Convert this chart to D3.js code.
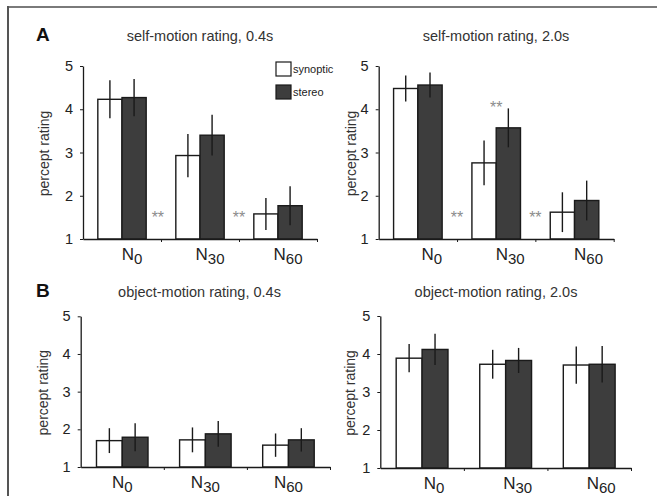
<!DOCTYPE html>
<html lang="en">
<head>
<meta charset="UTF-8">
<title>percept rating</title>
<script src="https://d3js.org/d3.v7.min.js"></script>
<style>
  body { margin: 0; background: #fff; }
  svg { display: block; font-family: "Liberation Sans", Arial, sans-serif; }
</style>
</head>
<body>
<script>
// categories (subscripts of N) and series
var categories = ["0", "30", "60"]
var seriesNames = ["synoptic", "stereo"]
var yTicks = [1, 2, 3, 4, 5]

// self-motion, 0.4s
var selfShortSynoptic = [4.23, 2.93, 1.58]
var selfShortSynopticErr = [0.44, 0.50, 0.37]
var selfShortStereo = [4.27, 3.40, 1.77]
var selfShortStereoErr = [0.43, 0.47, 0.45]
// self-motion, 2.0s
var selfLongSynoptic = [4.48, 2.76, 1.62]
var selfLongSynopticErr = [0.30, 0.52, 0.46]
var selfLongStereo = [4.56, 3.57, 1.89]
var selfLongStereoErr = [0.29, 0.45, 0.46]
// object-motion, 0.4s
var objShortSynoptic = [1.70, 1.72, 1.58]
var objShortSynopticErr = [0.33, 0.33, 0.31]
var objShortStereo = [1.79, 1.88, 1.72]
var objShortStereoErr = [0.37, 0.34, 0.31]
// object-motion, 2.0s
var objLongSynoptic = [3.89, 3.73, 3.71]
var objLongSynopticErr = [0.37, 0.38, 0.49]
var objLongStereo = [4.12, 3.83, 3.73]
var objLongStereoErr = [0.41, 0.33, 0.48]

// significance markers: position in category units, rating value
var sigShortPos = [0.96, 2]
var sigShortVal = [1.58, 1.58]
var sigLongPos = [1, 2, 1.5]
var sigLongVal = [1.58, 1.58, 4.12]

var W = 657, H = 496
var svg = d3.select("body").append("svg").attr("width", W).attr("height", H)

// frame
svg.append("line").attr("x1", 8).attr("x2", W).attr("y1", 7).attr("y2", 7)
  .attr("stroke", "#7a7a7a").attr("stroke-width", 2)
svg.append("line").attr("x1", 8).attr("x2", 8).attr("y1", 6).attr("y2", H)
  .attr("stroke", "#555").attr("stroke-width", 2)

var panels = [
  { title: "self-motion rating, 0.4s", x0: 83, x1: 317, yTop: 66, yBot: 239, tx: 200, ty: 41, yl: 45, shift: 10,
    a: selfShortSynoptic, ae: selfShortSynopticErr, b: selfShortStereo, be: selfShortStereoErr,
    sigPos: sigShortPos, sigVal: sigShortVal, letter: "A", legend: true },
  { title: "self-motion rating, 2.0s", x0: 378.7, x1: 613.7, yTop: 66, yBot: 239, tx: 496, ty: 41, yl: 352, shift: 14,
    a: selfLongSynoptic, ae: selfLongSynopticErr, b: selfLongStereo, be: selfLongStereoErr,
    sigPos: sigLongPos, sigVal: sigLongVal },
  { title: "object-motion rating, 0.4s", x0: 80.7, x1: 330, yTop: 316.3, yBot: 467, tx: 199.5, ty: 297, yl: 44, shift: 0,
    a: objShortSynoptic, ae: objShortSynopticErr, b: objShortStereo, be: objShortStereoErr,
    sigPos: [], sigVal: [], letter: "B" },
  { title: "object-motion rating, 2.0s", x0: 380.3, x1: 631, yTop: 316, yBot: 468, tx: 496, ty: 297, yl: 351, shift: 12,
    a: objLongSynoptic, ae: objLongSynopticErr, b: objLongStereo, be: objLongStereoErr,
    sigPos: [], sigVal: [] }
]

var fills = ["#ffffff", "#3d3d3d"]

panels.forEach(function (p) {
  var g = svg.append("g")
  var x = d3.scaleBand().domain(categories).range([p.x0, p.x1])
  var xs = d3.scaleBand().domain(seriesNames).range([0, x.bandwidth() * 0.62])
  var off = x.bandwidth() * 0.19
  var xl = d3.scaleLinear().domain([0, categories.length]).range([p.x0, p.x1])
  var y = d3.scaleLinear().domain([1, 5]).range([p.yBot, p.yTop])

  // bars
  var rows = []
  categories.forEach(function (c, i) {
    rows.push({ c: c, s: "synoptic", v: p.a[i], e: p.ae[i], f: fills[0] })
    rows.push({ c: c, s: "stereo", v: p.b[i], e: p.be[i], f: fills[1] })
  })
  g.selectAll("rect.bar").data(rows).enter().append("rect")
    .attr("x", function (d) { return x(d.c) + off + xs(d.s) })
    .attr("y", function (d) { return y(d.v) })
    .attr("width", xs.bandwidth())
    .attr("height", function (d) { return y(1) - y(d.v) })
    .attr("fill", function (d) { return d.f })
    .attr("stroke", "#1a1a1a").attr("stroke-width", 1.4)

  // error bars
  g.selectAll("line.err").data(rows).enter().append("line")
    .attr("x1", function (d) { return x(d.c) + off + xs(d.s) + xs.bandwidth() / 2 })
    .attr("x2", function (d) { return x(d.c) + off + xs(d.s) + xs.bandwidth() / 2 })
    .attr("y1", function (d) { return y(d.v + d.e) })
    .attr("y2", function (d) { return y(d.v - d.e) })
    .attr("stroke", "#1a1a1a").attr("stroke-width", 1.4)

  // axes
  var ya = g.append("g").attr("transform", "translate(" + p.x0 + ",0)")
    .call(d3.axisLeft(y).tickValues(yTicks).tickFormat(d3.format("d"))
      .tickSize(3).tickSizeOuter(0).tickPadding(7))
  ya.select(".domain").attr("stroke", "#1a1a1a").attr("stroke-width", 1.3)
  ya.selectAll("line").attr("stroke", "#1a1a1a")
  ya.selectAll("text").attr("font-size", 14.5).attr("fill", "#222")
    .attr("font-family", "Liberation Sans, Arial, sans-serif")

  var xa = g.append("g").attr("transform", "translate(0," + p.yBot + ")")
    .call(d3.axisBottom(xl).tickValues([1, 2, 3]).tickSize(3).tickSizeOuter(0).tickFormat(""))
  xa.select(".domain").attr("stroke", "#1a1a1a").attr("stroke-width", 1.3)
  xa.selectAll("line").attr("stroke", "#1a1a1a")

  // category labels
  var lab = g.selectAll("text.cat").data(categories).enter().append("text")
    .attr("x", function (d) { return x(d) + x.bandwidth() / 2 + p.shift })
    .attr("y", p.yBot + 21)
    .attr("text-anchor", "middle").attr("font-size", 17).attr("fill", "#222")
  lab.append("tspan").text("N")
  lab.append("tspan").attr("dy", 4).attr("font-size", 15).text(function (d) { return d })

  // significance stars
  g.selectAll("text.sig").data(p.sigPos).enter().append("text")
    .attr("x", function (d) { return xl(d) })
    .attr("y", function (d, i) { return y(p.sigVal[i]) + 9 })
    .attr("text-anchor", "middle").attr("font-size", 16).attr("fill", "#8c8c8c")
    .text("**")

  // titles
  g.append("text").attr("x", p.tx).attr("y", p.ty).attr("text-anchor", "middle")
    .attr("font-size", 14.5).attr("fill", "#333").text(p.title)
  g.append("text")
    .attr("transform", "translate(" + (p.yl + 4) + "," + ((p.yTop + p.yBot) / 2 + 1) + ") rotate(-90)")
    .attr("text-anchor", "middle").attr("font-size", 14).attr("fill", "#333").text("percept rating")

  if (p.letter) {
    g.append("text").attr("x", 36).attr("y", p.ty).attr("font-size", 19)
      .attr("font-weight", "bold").attr("fill", "#111").text(p.letter)
  }

  if (p.legend) {
    var lg = g.selectAll("g.leg").data(seriesNames).enter().append("g")
      .attr("transform", function (d, i) { return "translate(276," + (62 + i * 23) + ")" })
    lg.append("rect").attr("width", 15).attr("height", 14)
      .attr("fill", function (d, i) { return fills[i] })
      .attr("stroke", "#1a1a1a").attr("stroke-width", 1.2)
    lg.append("text").attr("x", 17).attr("y", 11).attr("font-size", 11).attr("fill", "#222")
      .text(function (d) { return d })
  }
})
</script>
</body>
</html>
